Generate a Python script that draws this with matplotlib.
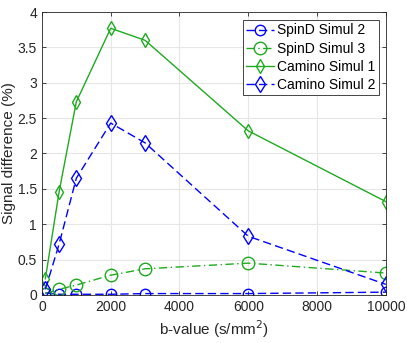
import matplotlib

matplotlib.use("Agg")
import matplotlib.pyplot as plt

plt.rcParams["font.family"] = ["Liberation Sans", "DejaVu Sans"]

bvals = [100, 500, 1000, 2000, 3000, 6000, 10000]
spind_simul2 = [0.03, 0.01, 0.01, 0.01, 0.02, 0.02, 0.04]
spind_simul3 = [0.02, 0.08, 0.14, 0.28, 0.37, 0.45, 0.31]
camino_simul1 = [0.23, 1.46, 2.73, 3.77, 3.60, 2.32, 1.32]
camino_simul2 = [0.08, 0.72, 1.65, 2.43, 2.15, 0.83, 0.15]

blue = "#0000ff"
green = "#1faa1f"
dash = (6, 3)
dashdot = (6, 2.5, 1, 2.5)

fig = plt.figure(figsize=(4.07, 3.43), dpi=100)
ax = fig.add_axes([0.103, 0.14, 0.845, 0.825])

ax.plot(bvals, spind_simul2, "o", ls=(0, dash), color=blue, mfc="none", ms=7.5,
        lw=1, label="SpinD Simul 2")
ax.plot(bvals, spind_simul3, "o", ls=(0, dashdot), color=green, mfc="none", ms=9,
        lw=1, label="SpinD Simul 3")
ax.plot(bvals, camino_simul1, "-d", color=green, mfc="none", ms=7, lw=1,
        label="Camino Simul 1")
ax.plot(bvals, camino_simul2, "d", ls=(0, dash), color=blue, mfc="none", ms=8.5,
        lw=1, label="Camino Simul 2")

ax.set_xlim(0, 10000)
ax.set_ylim(0, 4)
ax.set_xticks([0, 2000, 4000, 6000, 8000, 10000])
ax.set_yticks([0, 0.5, 1, 1.5, 2, 2.5, 3, 3.5, 4])
ax.set_yticklabels(["0", "0.5", "1", "1.5", "2", "2.5", "3", "3.5", "4"])
ax.grid(True, color="#e6e6e6", lw=0.8)
ax.set_axisbelow(True)
for s in ax.spines.values():
    s.set_color("#262626")
    s.set_linewidth(0.6)
ax.tick_params(labelsize=10, colors="#262626", direction="in", length=3, width=0.6,
               top=True, right=True)
ax.set_xlabel("b-value (s/mm$^2$)", fontsize=11, color="#262626", labelpad=3)
ax.set_ylabel("Signal difference (%)", fontsize=11, color="#262626", labelpad=1)

leg = ax.legend(loc="upper right", bbox_to_anchor=(0.98, 0.972), fontsize=10,
                fancybox=False, framealpha=1, edgecolor="#262626",
                borderpad=0.25, labelspacing=0.3, handlelength=2.0,
                handletextpad=0.2, borderaxespad=0)
leg.get_frame().set_linewidth(0.6)

fig.savefig("out.png", dpi=100)
plt.close(fig)
